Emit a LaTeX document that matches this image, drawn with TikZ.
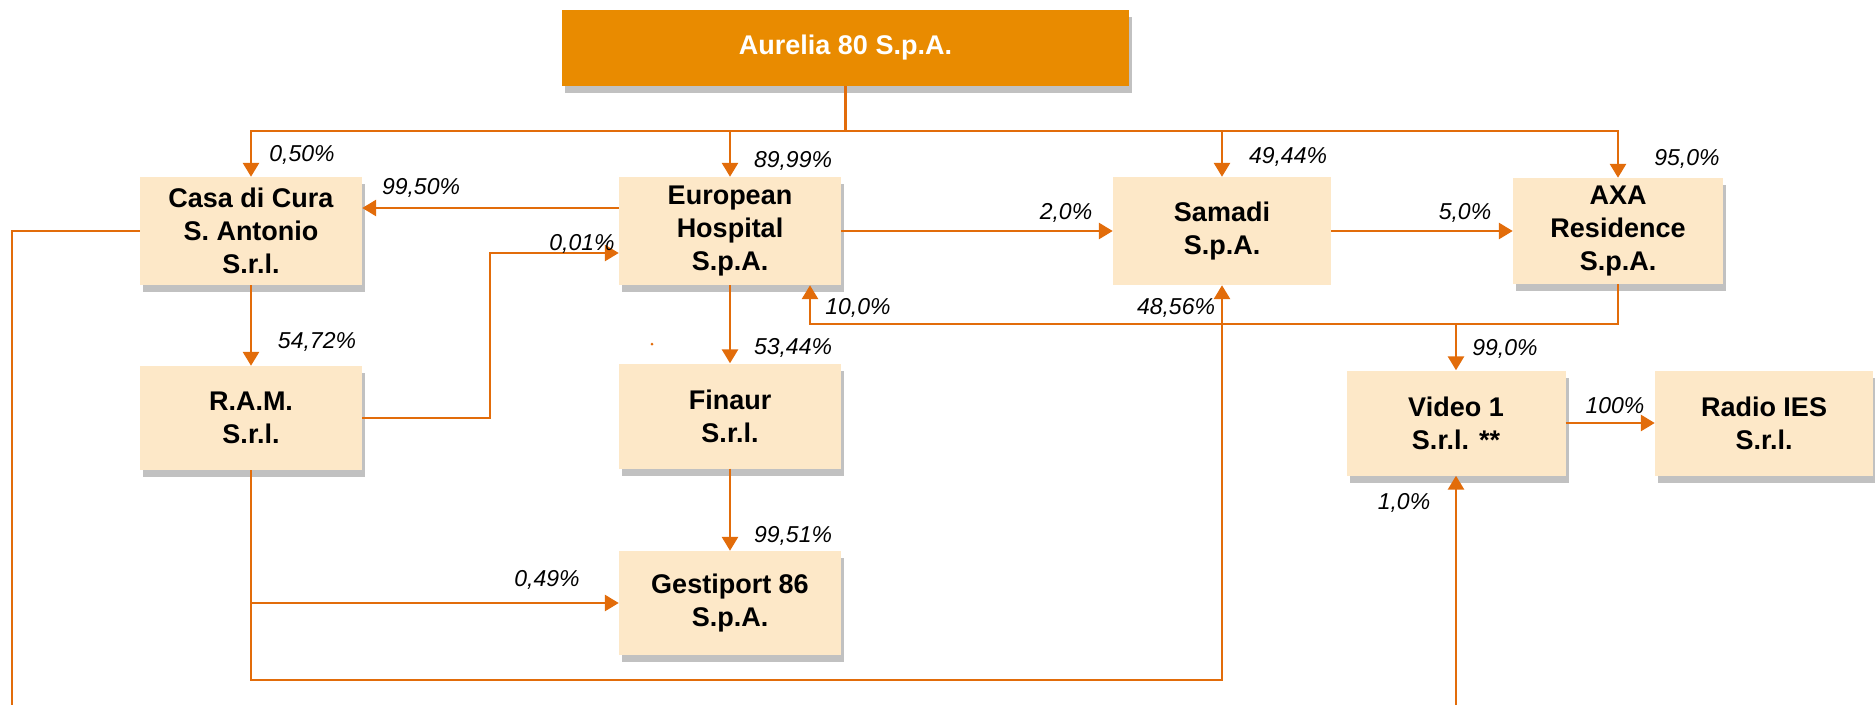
\documentclass[tikz,border=0pt]{standalone}
\usepackage{fontspec}
\setmainfont{Liberation Sans}
\usetikzlibrary{arrows.meta,shadows}
\definecolor{boxfill}{RGB}{253,232,200}
\definecolor{topfill}{RGB}{233,139,0}
\definecolor{linecol}{RGB}{226,108,10}
\tikzset{
  company/.style={draw=none, fill=boxfill, align=center, inner sep=0pt,
    font=\fontsize{27}{33}\selectfont\bfseries, text=black},
  shad/.style={drop shadow={shadow xshift=3pt, shadow yshift=-7pt, opacity=0.35, fill=black!70}},
  conn/.style={draw=linecol, line width=2.8pt},
  arr/.style={conn, -{Triangle[length=14pt,width=16pt]}},
  pct/.style={font=\fontsize{23}{27}\selectfont\itshape, text=black, inner sep=0pt}
}
\begin{document}
\begin{tikzpicture}[x=1pt,y=-1pt]
\useasboundingbox (0,0) rectangle (1875,705);
% boxes
\node[company, shad, fill=topfill, text=white, minimum width=567pt, minimum height=76pt] (aur) at (845.5,48) {Aurelia 80 S.p.A.};
\node[company, shad, minimum width=222pt, minimum height=108pt] (casa) at (251,231) {Casa di Cura\\S. Antonio\\S.r.l.};
\node[company, shad, minimum width=222pt, minimum height=108pt] (eh) at (730,231) {European\\Hospital\\S.p.A.};
\node[company, minimum width=218pt, minimum height=108pt] (sam) at (1222,231) {Samadi\\S.p.A.};
\node[company, shad, minimum width=210pt, minimum height=106pt] (axa) at (1618,231) {AXA\\Residence\\S.p.A.};
\node[company, shad, minimum width=222pt, minimum height=104pt] (ram) at (251,418) {R.A.M.\\S.r.l.};
\node[company, shad, minimum width=222pt, minimum height=105pt] (fin) at (730,416) {Finaur\\S.r.l.};
\node[company, shad, minimum width=222pt, minimum height=104pt] (ges) at (730,603) {Gestiport 86\\S.p.A.};
\node[company, shad, minimum width=219pt, minimum height=105pt] (vid) at (1456,423) {Video 1\\S.r.l. **};
\node[company, shad, minimum width=218pt, minimum height=105pt] (rad) at (1764,423) {Radio IES\\S.r.l.};
% coordinates
\coordinate (bus) at (845.5,131);
\coordinate (ramturn) at (490,253);
\coordinate (ramlow) at (251,680);
\coordinate (ramges) at (251,603);
\coordinate (axaj) at (1618,324);
\coordinate (vidj) at (1456,324);
\coordinate (vidbot) at (1456,705);
\coordinate (casaleft) at (12,705);
% connectors
\draw[conn] (aur.south) -- (bus);
\draw[arr] (bus) -| (casa.north);
\draw[arr] (bus) -| (eh.north);
\draw[arr] (bus) -| (sam.north);
\draw[arr] (bus) -| (axa.north);
\draw[arr] ([yshift=23pt]eh.west) -- ([yshift=23pt]casa.east);
\draw[arr] (ram.east) -| (ramturn) -- ([yshift=-22pt]eh.west);
\draw[arr] (eh.east) -- (sam.west);
\draw[arr] (sam.east) -- (axa.west);
\draw[arr] (casa.south) -- (ram.north);
\draw[arr] (eh.south) -- (fin.north);
\draw[arr] (fin.south) -- (ges.north);
\draw[arr] (ram.south) -- (ramlow) -| (sam.south);
\draw[arr] (ramges) -- (ges.west);
\draw[arr] (axa.south) -- (axaj) -| ([xshift=80pt]eh.south);
\draw[arr] (vidj) -- (vid.north);
\draw[arr] (vid.east) -- (rad.west);
\draw[arr] (vidbot) -- (vid.south);
\draw[conn] (casa.west) -| (casaleft);
\fill[linecol] (652,344) circle (1.5pt);
% labels
\node[pct] (l1) at (302,155) {0,50\%};
\node[pct] (l2) at (421,188) {99,50\%};
\node[pct] (l3) at (582,244) {0,01\%};
\node[pct] (l4) at (793,161) {89,99\%};
\node[pct] (l5) at (1066,213) {2,0\%};
\node[pct] (l6) at (1288,157) {49,44\%};
\node[pct] (l7) at (1465,213) {5,0\%};
\node[pct] (l8) at (1687,159) {95,0\%};
\node[pct] (l9) at (858,308) {10,0\%};
\node[pct] (l10) at (1176,308) {48,56\%};
\node[pct] (l11) at (317,342) {54,72\%};
\node[pct] (l12) at (793,348) {53,44\%};
\node[pct] (l13) at (1505,349) {99,0\%};
\node[pct] (l14) at (1615,406) {100\%};
\node[pct] (l15) at (1404,503) {1,0\%};
\node[pct] (l16) at (793,536) {99,51\%};
\node[pct] (l17) at (547,580) {0,49\%};
\end{tikzpicture}
\end{document}
